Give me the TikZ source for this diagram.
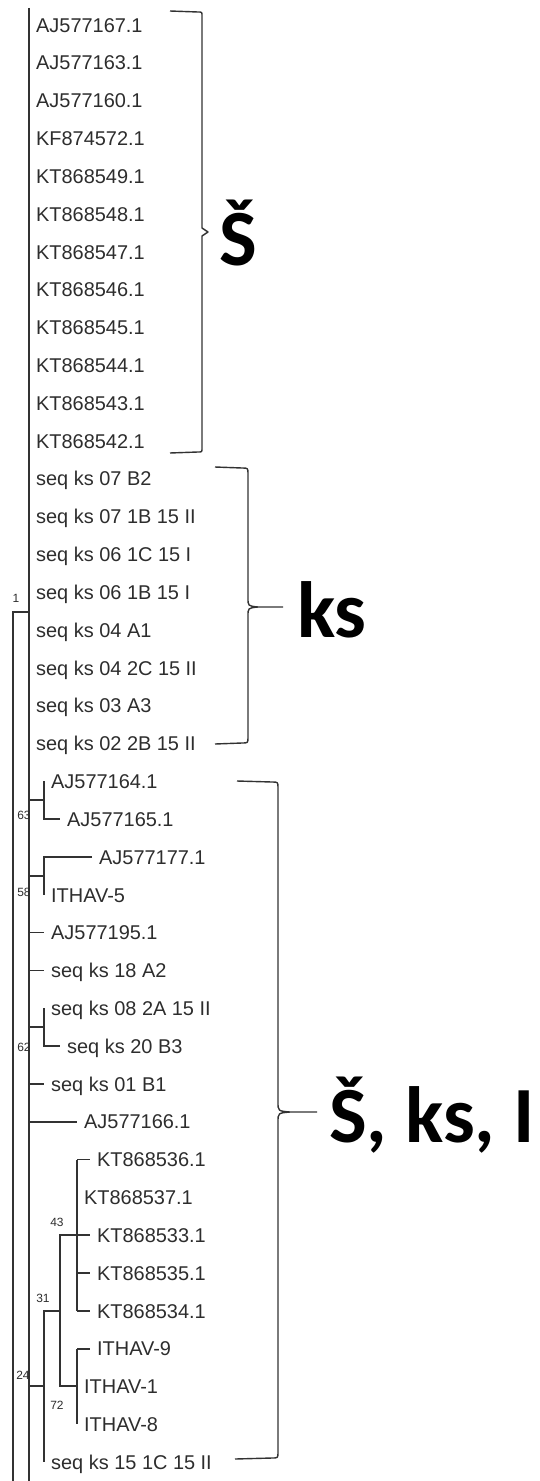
\documentclass[tikz,border=0pt]{standalone}
\usepackage{fontspec}
\setmainfont{Liberation Sans}
\newfontfamily\groupfont{Carlito}
\usetikzlibrary{calc}
\definecolor{treegray}{RGB}{50,50,50}
\definecolor{labgray}{RGB}{45,45,45}
\tikzset{
  branch/.style={treegray, line width=1.6bp},
  leaf/.style={anchor=west, inner xsep=7bp, inner ysep=0pt, text height=14.3bp, text depth=0bp,
    text=labgray, font=\fontsize{20}{24}\selectfont},
  boot/.style={inner sep=0pt, text=labgray, font=\fontsize{12}{14}\selectfont},
  brace/.style={treegray, line width=1.4bp, line join=round},
  grouplab/.style={anchor=base west, inner sep=0pt, font=\groupfont\bfseries\fontsize{80}{90}\selectfont}
}

\begin{document}
\begin{tikzpicture}[x=1bp,y=-1bp]
\useasboundingbox (0,0) rectangle (540,1481);

% leaves hanging from the long line
\foreach \lab [count=\i from 0] in {AJ577167.1, AJ577163.1, AJ577160.1, KF874572.1, KT868549.1,
  KT868548.1, KT868547.1, KT868546.1, KT868545.1, KT868544.1, KT868543.1, KT868542.1,
  seq ks 07 B2, seq ks 07 1B 15 II, seq ks 06 1C 15 I, seq ks 06 1B 15 I, seq ks 04 A1,
  seq ks 04 2C 15 II, seq ks 03 A3, seq ks 02 2B 15 II}
  \node[leaf] (l\i) at (29,{25+37.82*\i}) {\lab};

% leaves of the lower part
\foreach \x/\lab [count=\i from 20] in {44/AJ577164.1, 60/AJ577165.1, 92/AJ577177.1, 44/ITHAV-5,
  44/AJ577195.1, 44/seq ks 18 A2, 44/seq ks 08 2A 15 II, 60/seq ks 20 B3, 44/seq ks 01 B1,
  77/AJ577166.1, 90/KT868536.1, 77/KT868537.1, 90/KT868533.1, 90/KT868535.1, 90/KT868534.1,
  90/ITHAV-9, 77/ITHAV-1, 77/ITHAV-8, 44/seq ks 15 1C 15 II}
  \node[leaf] (l\i) at (\x,{25+37.82*\i}) {\lab};

\coordinate (top) at (29,8);
\coordinate (bot) at (29,1481);
\coordinate (n1) at (13,612);
\coordinate (rootbot) at (13,1481);
\coordinate (n63) at (44,800);
\coordinate (n58) at (44,876);
\coordinate (n62) at (44,1027);
\coordinate (n43) at (77,1235);
\coordinate (n72) at (77,1386);
\coordinate (n31) at (60,1311);
\coordinate (n24) at (44,1386);

\draw[branch] (top) -- (bot);
\draw[branch] (rootbot) -- (n1) -- (n1 -| top);

\draw[branch] (n63 -| top) -- (n63);
\draw[branch] (l20.west) -- (n63) |- (l21);
\draw[branch] (n58 -| top) -- (n58);
\draw[branch] (l22) -| (n58) -- (l23.west);
\draw[branch] (l24 -| top) -- (l24);
\draw[branch] (l25 -| top) -- (l25);
\draw[branch] (n62 -| top) -- (n62);
\draw[branch] (l26.west) -- (n62) |- (l27);
\draw[branch] (l28 -| top) -- (l28);
\draw[branch] (l29 -| top) -- (l29);

\draw[branch] (l30 -| n43) -- (l34 -| n43);
\foreach \j in {30,32,33,34}
  \draw[branch] (l\j -| n43) -- (l\j);
\draw[branch] (l35 -| n72) -- (l37.west);
\draw[branch] (l35 -| n72) -- (l35);
\draw[branch] (n43) -| (n31) |- (n72);
\draw[branch] (n31) -| (n24) |- (l38);
\draw[branch] (n24 -| top) -- (n24);

% bootstrap values
\node[boot] (b1) at (16,598) {1};
\node[boot] (b63) at (24,815) {63};
\node[boot] (b58) at (24,892) {58};
\node[boot] (b62) at (24,1047) {62};
\node[boot] (b43) at (57,1222) {43};
\node[boot] (b31) at (43,1298) {31};
\node[boot] (b24) at (23,1375) {24};
\node[boot] (b72) at (57,1405) {72};

% brackets and groups
\node[grouplab] (gS) at (219,265) {Š};
\node[grouplab] (gKs) at (297,637) {ks};
\node[grouplab] (gAll) at (329,1142) {Š, ks, I};

\draw[brace] (170,11) -- (198,12) .. controls (202,12) .. (202,16) -- (202,228) -- (208,232)
  -- (202,236) -- (202,448) .. controls (202,452) .. (198,452) -- (170,453);
\draw[brace] (215,467) -- (242,468) .. controls (248,468) .. (248,474) -- (248,598)
  .. controls (248,606) .. (258,607) -- (283,607)
  (258,607) .. controls (248,608) .. (248,616) -- (248,737)
  .. controls (248,743) .. (242,743) -- (215,744);
\draw[brace] (237,781) -- (272,782) .. controls (278,782) .. (278,788) -- (278,1102)
  .. controls (278,1111) .. (290,1112) -- (317,1112)
  (290,1112) .. controls (278,1113) .. (278,1122) -- (278,1452)
  .. controls (278,1458) .. (272,1458) -- (235,1459);
\end{tikzpicture}
\end{document}
